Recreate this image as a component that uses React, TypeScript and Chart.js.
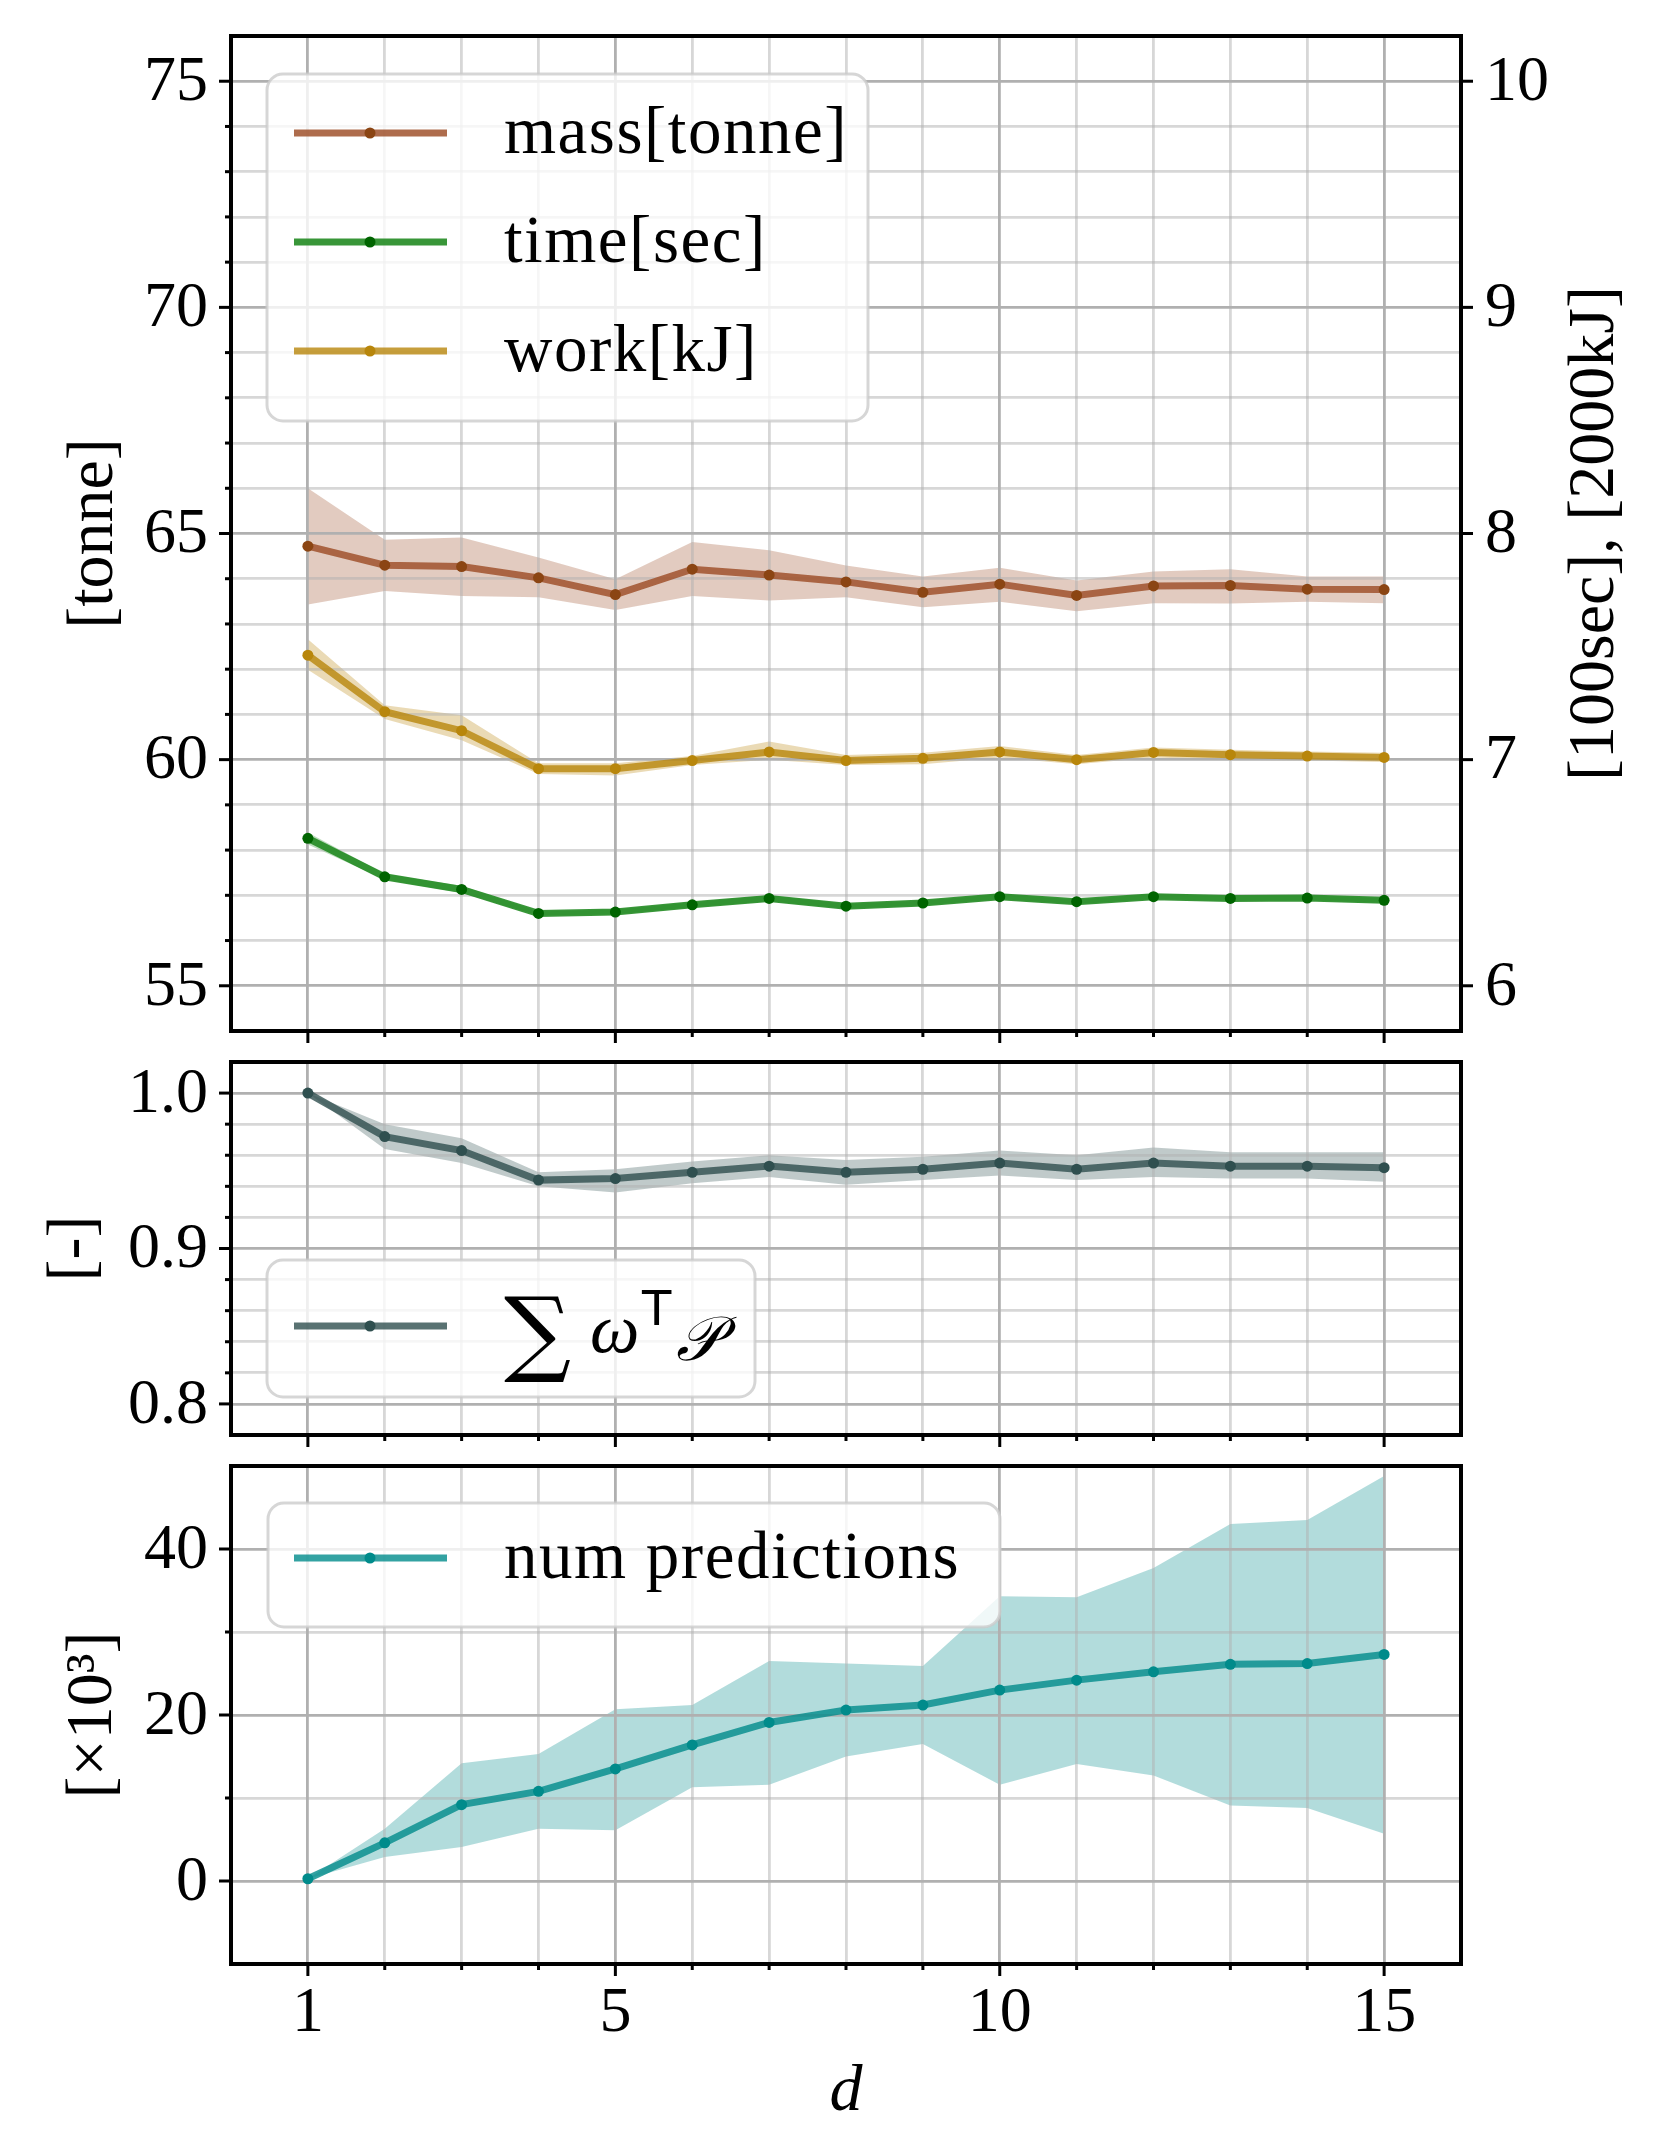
import { useEffect, useRef } from "react"
import { Chart, registerables } from "chart.js"

Chart.register(...registerables)

// d = 1 .. 15
const D = [1, 2, 3, 4, 5, 6, 7, 8, 9, 10, 11, 12, 13, 14, 15]

// mass [tonne] (left axis)
const MASS = [64.72, 64.3, 64.27, 64.02, 63.65, 64.21, 64.08, 63.93, 63.7, 63.88, 63.63, 63.84, 63.85, 63.77, 63.76]
const MASS_HI = [66.0, 64.86, 64.91, 64.47, 63.99, 64.81, 64.63, 64.29, 64.05, 64.24, 63.96, 64.16, 64.21, 64.05, 64.05]
const MASS_LO = [63.43, 63.73, 63.62, 63.59, 63.31, 63.62, 63.52, 63.59, 63.37, 63.49, 63.28, 63.46, 63.45, 63.49, 63.46]

// time [100sec] (right axis)
const TIME = [6.652, 6.482, 6.426, 6.32, 6.326, 6.358, 6.386, 6.352, 6.366, 6.394, 6.372, 6.394, 6.386, 6.388, 6.378]
const TIME_HI = [6.678, 6.494, 6.442, 6.328, 6.336, 6.368, 6.4, 6.362, 6.376, 6.404, 6.382, 6.404, 6.396, 6.398, 6.388]
const TIME_LO = [6.625, 6.47, 6.41, 6.312, 6.316, 6.348, 6.374, 6.342, 6.356, 6.384, 6.362, 6.384, 6.376, 6.378, 6.368]

// work [2000kJ] (right axis)
const WORK = [7.462, 7.212, 7.128, 6.96, 6.96, 6.996, 7.034, 6.996, 7.006, 7.034, 7.0, 7.032, 7.022, 7.016, 7.01]
const WORK_HI = [7.532, 7.24, 7.196, 6.984, 6.984, 7.016, 7.08, 7.02, 7.03, 7.06, 7.02, 7.054, 7.044, 7.036, 7.03]
const WORK_LO = [7.398, 7.18, 7.086, 6.936, 6.93, 6.976, 7.0, 6.976, 6.98, 7.01, 6.98, 7.01, 7.0, 6.996, 6.99]

// sum w^T P [-]
const SUMWP = [1.0, 0.972, 0.963, 0.944, 0.945, 0.949, 0.953, 0.949, 0.951, 0.955, 0.951, 0.955, 0.953, 0.953, 0.952]
const SUMWP_HI = [1.0, 0.98, 0.971, 0.949, 0.951, 0.956, 0.96, 0.957, 0.959, 0.963, 0.96, 0.965, 0.962, 0.962, 0.962]
const SUMWP_LO = [1.0, 0.964, 0.955, 0.94, 0.936, 0.942, 0.946, 0.941, 0.944, 0.947, 0.944, 0.946, 0.945, 0.945, 0.943]

// num predictions [x10^3]
const NPRED = [0.27, 4.6, 9.2, 10.8, 13.5, 16.4, 19.1, 20.6, 21.2, 23.0, 24.2, 25.2, 26.1, 26.2, 27.3]
const NPRED_HI = [0.27, 6.3, 14.2, 15.3, 20.7, 21.2, 26.5, 26.2, 25.9, 34.3, 34.2, 37.7, 43.0, 43.5, 48.8]
const NPRED_LO = [0.27, 2.9, 4.1, 6.3, 6.1, 11.3, 11.6, 15.0, 16.5, 11.6, 14.1, 12.7, 9.1, 8.8, 5.7]

// tick labels
const X_LABELS = [1, 5, 10, 15]
const TOP_LEFT_TICKS = [55, 60, 65, 70, 75]
const TOP_RIGHT_TICKS = [6, 7, 8, 9, 10]
const MID_TICKS = [0.8, 0.9, 1.0]
const BOT_TICKS = [0, 20, 40]

const SERIF = "'Liberation Serif', 'DejaVu Serif', serif"
const W = 1660
const LW = 7

type AxisDeco = {
  id: string
  side: "left" | "right" | "bottom"
  major: number[]
  minor: number[]
  labels?: string[]
}
type LegendRow = { y: number; line: string; marker: string; text?: string; formula?: boolean }
type Deco = {
  axes: AxisDeco[]
  titles: { text: string; x: number; y?: number; rot: number; italic?: boolean }[]
  legend: { box: [number, number, number, number]; rows: LegendRow[] }
}

function steps(from: number, to: number, step: number, skip: number[]) {
  const out: number[] = []
  const n = Math.round((to - from) / step)
  for (let i = 0; i <= n; i++) {
    const v = +(from + i * step).toFixed(4)
    if (!skip.some((s) => Math.abs(s - v) < 1e-6)) out.push(v)
  }
  return out
}

function roundRect(ctx: CanvasRenderingContext2D, x0: number, y0: number, x1: number, y1: number, r: number) {
  ctx.beginPath()
  ctx.moveTo(x0 + r, y0)
  ctx.lineTo(x1 - r, y0)
  ctx.arcTo(x1, y0, x1, y0 + r, r)
  ctx.lineTo(x1, y1 - r)
  ctx.arcTo(x1, y1, x1 - r, y1, r)
  ctx.lineTo(x0 + r, y1)
  ctx.arcTo(x0, y1, x0, y1 - r, r)
  ctx.lineTo(x0, y0 + r)
  ctx.arcTo(x0, y0, x0 + r, y0, r)
  ctx.closePath()
}

function decoPlugin(deco: Deco) {
  return {
    id: "deco",
    afterDraw(chart: Chart) {
      const ctx = chart.ctx
      const a = chart.chartArea
      ctx.save()

      // tick marks + labels
      ctx.strokeStyle = "#000"
      ctx.fillStyle = "#000"
      ctx.lineWidth = 3
      for (const ax of deco.axes) {
        const sc = chart.scales[ax.id]
        const draw = (v: number, len: number) => {
          const p = sc.getPixelForValue(v)
          ctx.beginPath()
          if (ax.side === "left") {
            ctx.moveTo(a.left - len, p)
            ctx.lineTo(a.left, p)
          } else if (ax.side === "right") {
            ctx.moveTo(a.right, p)
            ctx.lineTo(a.right + len, p)
          } else {
            ctx.moveTo(p, a.bottom)
            ctx.lineTo(p, a.bottom + len)
          }
          ctx.stroke()
        }
        ax.major.forEach((v) => draw(v, 12))
        ax.minor.forEach((v) => draw(v, 6))
        if (ax.labels) {
          ctx.font = `64px ${SERIF}`
          ctx.textBaseline = "middle"
          ax.major.forEach((v, i) => {
            const p = sc.getPixelForValue(v)
            if (ax.side === "left") {
              ctx.textAlign = "right"
              ctx.fillText(ax.labels![i], a.left - 23, p + 2)
            } else if (ax.side === "right") {
              ctx.textAlign = "left"
              ctx.fillText(ax.labels![i], a.right + 24, p + 2)
            } else {
              ctx.textAlign = "center"
              ctx.fillText(ax.labels![i], p, a.bottom + 50)
            }
          })
        }
      }

      // frame
      ctx.lineWidth = 4
      ctx.strokeRect(a.left, a.top, a.right - a.left, a.bottom - a.top)

      // axis titles
      for (const t of deco.titles) {
        const y = t.y ?? (a.top + a.bottom) / 2
        ctx.save()
        ctx.translate(t.x, y)
        ctx.rotate(t.rot)
        ctx.font = `${t.italic ? "italic " : ""}66px ${SERIF}`
        ctx.textAlign = "center"
        ctx.textBaseline = "middle"
        ctx.fillText(t.text, 0, 0)
        ctx.restore()
      }

      // legend
      const [x0, y0, x1, y1] = deco.legend.box
      roundRect(ctx, x0, y0, x1, y1, 16)
      ctx.fillStyle = "rgba(255,255,255,0.8)"
      ctx.fill()
      ctx.lineWidth = 3
      ctx.strokeStyle = "rgba(204,204,204,0.8)"
      ctx.stroke()
      for (const r of deco.legend.rows) {
        ctx.strokeStyle = r.line
        ctx.lineWidth = LW
        ctx.beginPath()
        ctx.moveTo(294, r.y)
        ctx.lineTo(447, r.y)
        ctx.stroke()
        ctx.fillStyle = r.marker
        ctx.beginPath()
        ctx.arc(370, r.y, 5.5, 0, Math.PI * 2)
        ctx.fill()
        ctx.fillStyle = "#000"
        ctx.textAlign = "left"
        if (r.text) {
          ctx.font = `67px ${SERIF}`
          ;(ctx as any).letterSpacing = "1.5px"
          ctx.textBaseline = "middle"
          ctx.fillText(r.text, 504, r.y + 2)
          ;(ctx as any).letterSpacing = "0px"
        } else if (r.formula) {
          ctx.textBaseline = "alphabetic"
          ctx.font = `94px 'DejaVu Serif'`
          ctx.fillText("\u2211", 504, r.y + 38)
          ctx.font = `italic 70px ${SERIF}`
          ctx.fillText("\u03c9", 590, r.y + 26)
          ctx.font = `48px 'DejaVu Sans'`
          ctx.fillText("T", 642, r.y - 1)
          ctx.font = `italic 62px 'DejaVu Serif'`
          ctx.fillText("\ud835\udcab", 676, r.y + 34)
        }
      }
      ctx.restore()
    },
  }
}

const gridColor = (c: any) => (c.tick && c.tick.major ? "#b0b0b0" : "rgba(176,176,176,0.5)")

function xScale(height: number) {
  return {
    type: "linear" as const,
    min: 0,
    max: 16,
    ticks: { display: false, autoSkip: false },
    border: { display: false },
    grid: { color: gridColor, lineWidth: 2.8, drawTicks: false },
    afterBuildTicks: (s: any) => {
      s.ticks = D.map((v) => ({ value: v, major: X_LABELS.includes(v) }))
    },
    afterFit: (s: any) => {
      s.height = height
      s.paddingLeft = 0
      s.paddingRight = 0
      s.paddingTop = 0
      s.paddingBottom = 0
    },
  }
}

function yScale(min: number, max: number, major: number[], minor: number[], width: number, grid = true) {
  return {
    type: "linear" as const,
    position: "left" as const,
    min,
    max,
    ticks: { display: false, autoSkip: false },
    border: { display: false },
    grid: { color: gridColor, lineWidth: 2.8, drawTicks: false, drawOnChartArea: grid },
    afterBuildTicks: (s: any) => {
      s.ticks = [...minor.map((v) => ({ value: v, major: false })), ...major.map((v) => ({ value: v, major: true }))]
    },
    afterFit: (s: any) => {
      s.width = width
      s.paddingLeft = 0
      s.paddingRight = 0
      s.paddingTop = 0
      s.paddingBottom = 0
    },
  }
}

function line(data: number[], color: string, marker: string, axis = "y") {
  return {
    data: data.map((v, i) => ({ x: D[i], y: v })),
    borderColor: color,
    borderWidth: LW,
    pointRadius: 5.5,
    pointBackgroundColor: marker,
    pointBorderWidth: 0,
    tension: 0,
    fill: false,
    yAxisID: axis,
  }
}

function band(hi: number[], lo: number[], color: string, axis = "y") {
  return [
    {
      data: hi.map((v, i) => ({ x: D[i], y: v })),
      borderWidth: 0,
      pointRadius: 0,
      backgroundColor: color,
      fill: "+1",
      yAxisID: axis,
    },
    {
      data: lo.map((v, i) => ({ x: D[i], y: v })),
      borderWidth: 0,
      pointRadius: 0,
      fill: false,
      yAxisID: axis,
    },
  ]
}

function baseOptions(padding: any, scales: any) {
  return {
    responsive: false,
    animation: false as const,
    devicePixelRatio: 1,
    layout: { padding },
    scales,
    plugins: {
      legend: { display: false },
      tooltip: { enabled: false },
      filler: { drawTime: "beforeDraw" as const },
    },
  }
}

function TopPanel() {
  const ref = useRef<HTMLCanvasElement>(null)
  useEffect(() => {
    if (!ref.current) return
    const y2 = yScale(5.8, 10.2, TOP_RIGHT_TICKS, [], 199, false)
    const chart = new Chart(ref.current, {
      type: "line",
      data: {
        datasets: [
          line(MASS, "rgba(160,82,45,0.85)", "#8b4513"),
          line(TIME, "rgba(34,139,34,0.9)", "#006400", "y2"),
          line(WORK, "rgba(184,134,11,0.8)", "#b8860b", "y2"),
          ...band(MASS_HI, MASS_LO, "rgba(160,82,45,0.3)"),
          ...band(TIME_HI, TIME_LO, "rgba(34,139,34,0.3)", "y2"),
          ...band(WORK_HI, WORK_LO, "rgba(184,134,11,0.3)", "y2"),
        ] as any,
      },
      options: baseOptions(
        { top: 36, left: 0, right: 0, bottom: 0 },
        {
          x: xScale(16),
          y: yScale(54, 76, TOP_LEFT_TICKS, steps(55, 75, 1, TOP_LEFT_TICKS), 231),
          y2: { ...y2, position: "right" },
        }
      ) as any,
      plugins: [
        decoPlugin({
          axes: [
            { id: "y", side: "left", major: TOP_LEFT_TICKS, minor: steps(55, 75, 1, TOP_LEFT_TICKS), labels: TOP_LEFT_TICKS.map(String) },
            { id: "y2", side: "right", major: TOP_RIGHT_TICKS, minor: [], labels: TOP_RIGHT_TICKS.map(String) },
            { id: "x", side: "bottom", major: X_LABELS, minor: D.filter((v) => !X_LABELS.includes(v)) },
          ],
          titles: [
            { text: "[tonne]", x: 95, rot: -Math.PI / 2 },
            { text: "[100sec], [2000kJ]", x: 1596, rot: -Math.PI / 2 },
          ],
          legend: {
            box: [267, 74, 868, 421],
            rows: [
              { y: 133, line: "rgba(160,82,45,0.85)", marker: "#8b4513", text: "mass[tonne]" },
              { y: 242, line: "rgba(34,139,34,0.9)", marker: "#006400", text: "time[sec]" },
              { y: 351, line: "rgba(184,134,11,0.8)", marker: "#b8860b", text: "work[kJ]" },
            ],
          },
        }) as any,
      ],
    })
    return () => chart.destroy()
  }, [])
  return <canvas ref={ref} width={W} height={1047} style={{ position: "absolute", left: 0, top: 0 }} />
}

function MidPanel() {
  const ref = useRef<HTMLCanvasElement>(null)
  useEffect(() => {
    if (!ref.current) return
    const minor = steps(0.8, 1.0, 0.02, MID_TICKS)
    const chart = new Chart(ref.current, {
      type: "line",
      data: {
        datasets: [
          line(SUMWP, "rgba(47,79,79,0.8)", "#2f4f4f"),
          ...band(SUMWP_HI, SUMWP_LO, "rgba(47,79,79,0.3)"),
        ] as any,
      },
      options: baseOptions(
        { top: 15, left: 0, right: 199, bottom: 0 },
        {
          x: xScale(15),
          y: yScale(0.78, 1.02, MID_TICKS, minor, 231),
        }
      ) as any,
      plugins: [
        decoPlugin({
          axes: [
            { id: "y", side: "left", major: MID_TICKS, minor, labels: MID_TICKS.map((v) => v.toFixed(1)) },
            { id: "x", side: "bottom", major: X_LABELS, minor: D.filter((v) => !X_LABELS.includes(v)) },
          ],
          titles: [{ text: "[-]", x: 75, rot: -Math.PI / 2 }],
          legend: {
            box: [267, 213, 755, 350],
            rows: [{ y: 279, line: "rgba(47,79,79,0.8)", marker: "#2f4f4f", formula: true }],
          },
        }) as any,
      ],
    })
    return () => chart.destroy()
  }, [])
  return <canvas ref={ref} width={W} height={403} style={{ position: "absolute", left: 0, top: 1047 }} />
}

function BottomPanel() {
  const ref = useRef<HTMLCanvasElement>(null)
  useEffect(() => {
    if (!ref.current) return
    const minor = [10, 30]
    const chart = new Chart(ref.current, {
      type: "line",
      data: {
        datasets: [
          line(NPRED, "rgba(0,139,139,0.8)", "#008b8b"),
          ...band(NPRED_HI, NPRED_LO, "rgba(0,139,139,0.3)"),
        ] as any,
      },
      options: baseOptions(
        { top: 16, left: 0, right: 199, bottom: 0 },
        {
          x: xScale(185),
          y: yScale(-10, 50, BOT_TICKS, minor, 231),
        }
      ) as any,
      plugins: [
        decoPlugin({
          axes: [
            { id: "y", side: "left", major: BOT_TICKS, minor, labels: BOT_TICKS.map(String) },
            { id: "x", side: "bottom", major: X_LABELS, minor: D.filter((v) => !X_LABELS.includes(v)), labels: X_LABELS.map(String) },
          ],
          titles: [
            { text: "[\u00d710\u00b3]", x: 94, rot: -Math.PI / 2 },
            { text: "d", x: 846, y: 643, rot: 0, italic: true },
          ],
          legend: {
            box: [268, 53, 1000, 177],
            rows: [{ y: 108, line: "rgba(0,139,139,0.8)", marker: "#008b8b", text: "num predictions" }],
          },
        }) as any,
      ],
    })
    return () => chart.destroy()
  }, [])
  return <canvas ref={ref} width={W} height={699} style={{ position: "absolute", left: 0, top: 1450 }} />
}

export default function App() {
  return (
    <div style={{ position: "absolute", left: 0, top: 0, width: W, height: 2149, background: "#fff" }}>
      <TopPanel />
      <MidPanel />
      <BottomPanel />
    </div>
  )
}
